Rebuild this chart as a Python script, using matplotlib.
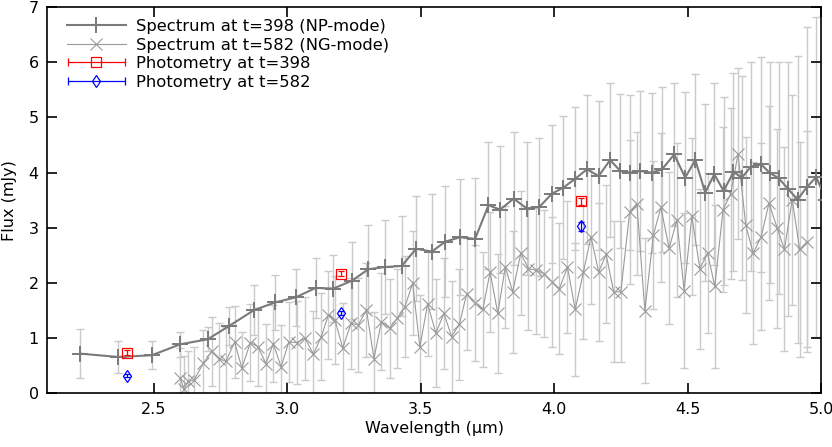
"""Spectra at two epochs with photometry overlaid (flux vs wavelength)."""

import matplotlib
matplotlib.use("Agg")
import matplotlib.pyplot as plt
from matplotlib.legend_handler import HandlerErrorbar
import numpy as np

# Spectrum at t=398 (NP-mode)
wl_np = [2.224, 2.366, 2.492, 2.600, 2.702, 2.782, 2.876, 2.956, 3.032, 3.106,
         3.173, 3.242, 3.304, 3.367, 3.429, 3.483, 3.542, 3.592, 3.648, 3.704,
         3.754, 3.798, 3.848, 3.898, 3.945, 3.992, 4.035, 4.079, 4.123, 4.167,
         4.210, 4.248, 4.285, 4.323, 4.366, 4.404, 4.450, 4.491, 4.529, 4.566,
         4.600, 4.635, 4.672, 4.704, 4.737, 4.776, 4.807, 4.841, 4.878, 4.912,
         4.947, 4.982, 5.020]
flux_np = [0.72, 0.66, 0.69, 0.89, 0.98, 1.22, 1.51, 1.65, 1.74, 1.91,
           1.90, 2.04, 2.25, 2.29, 2.31, 2.62, 2.57, 2.75, 2.83, 2.80,
           3.41, 3.33, 3.53, 3.35, 3.38, 3.62, 3.73, 3.89, 4.06, 3.94,
           4.23, 4.03, 4.00, 4.03, 4.00, 4.06, 4.33, 3.91, 4.23, 3.64,
           3.97, 3.67, 4.01, 3.91, 4.11, 4.15, 4.00, 3.90, 3.70, 3.51,
           3.74, 3.92, 3.50]
err_np = [0.44, 0.29, 0.25, 0.23, 0.22, 0.35, 0.45, 0.50, 0.52, 0.55,
          0.60, 0.70, 0.80, 0.85, 0.90, 0.95, 1.05, 1.00, 1.05, 1.10,
          1.15, 1.15, 1.20, 1.20, 1.25, 1.25, 1.30, 1.30, 1.35, 1.35,
          1.40, 1.40, 1.40, 1.45, 1.45, 1.50, 1.30, 1.55, 1.55, 1.60,
          1.65, 1.70, 1.80, 1.85, 1.90, 1.95, 2.00, 2.10, 2.30, 2.60,
          2.90, 2.90, 3.00]

# Spectrum at t=582 (NG-mode)
wl_ng = [2.600, 2.612, 2.630, 2.651, 2.686, 2.717, 2.745, 2.770, 2.803, 2.830,
         2.862, 2.891, 2.920, 2.948, 2.977, 3.006, 3.036, 3.067, 3.098, 3.128,
         3.154, 3.179, 3.208, 3.239, 3.266, 3.297, 3.325, 3.353, 3.384, 3.412,
         3.441, 3.470, 3.497, 3.526, 3.557, 3.587, 3.616, 3.645, 3.672, 3.702,
         3.733, 3.760, 3.789, 3.817, 3.845, 3.875, 3.904, 3.933, 3.963, 3.992,
         4.020, 4.050, 4.079, 4.110, 4.138, 4.167, 4.195, 4.223, 4.250, 4.283,
         4.310, 4.340, 4.372, 4.400, 4.431, 4.460, 4.487, 4.516, 4.546, 4.575,
         4.602, 4.633, 4.662, 4.689, 4.718, 4.746, 4.776, 4.805, 4.836, 4.863,
         4.892, 4.920, 4.948]
flux_ng = [0.28, 0.07, 0.22, 0.24, 0.55, 0.76, 0.63, 0.58, 0.93, 0.46,
           0.92, 0.84, 0.54, 0.90, 0.48, 0.93, 0.92, 1.00, 0.71, 1.03,
           1.42, 1.33, 0.82, 1.27, 1.24, 1.51, 0.63, 1.30, 1.18, 1.36,
           1.57, 2.00, 0.84, 1.62, 1.09, 1.45, 1.03, 1.25, 1.80, 1.64,
           1.52, 2.20, 1.45, 2.29, 1.84, 2.54, 2.26, 2.23, 2.17, 2.02,
           1.90, 2.29, 1.52, 2.20, 2.84, 2.20, 2.52, 1.84, 1.84, 3.29,
           3.44, 1.50, 2.87, 3.37, 2.63, 3.14, 1.86, 3.21, 2.26, 2.54,
           1.94, 3.33, 3.62, 4.34, 3.05, 2.54, 2.84, 3.45, 2.99, 2.61,
           3.51, 2.61, 2.75]
err_ng = [0.55, 0.60, 0.55, 0.60, 0.60, 0.62, 0.65, 0.62, 0.65, 0.65,
          0.70, 0.70, 0.72, 0.70, 0.75, 0.72, 0.75, 0.75, 0.78, 0.78,
          0.80, 0.80, 0.82, 0.82, 0.85, 0.85, 0.85, 0.88, 0.90, 0.90,
          0.92, 0.95, 0.95, 0.95, 0.98, 1.00, 1.00, 1.00, 1.02, 1.05,
          1.05, 1.08, 1.08, 1.10, 1.10, 1.12, 1.12, 1.15, 1.15, 1.18,
          1.18, 1.20, 1.20, 1.22, 1.22, 1.25, 1.25, 1.28, 1.28, 1.30,
          1.30, 1.32, 1.35, 1.35, 1.38, 1.40, 1.40, 1.42, 1.45, 1.45,
          1.48, 1.50, 1.55, 1.55, 1.60, 1.65, 1.70, 1.75, 1.80, 1.85,
          1.90, 1.95, 2.00]

# Photometry
wl_phot = [2.40, 3.20, 4.10]
phot_398 = [0.74, 2.17, 3.48]
phot_398_err = [0.05, 0.05, 0.06]
phot_582 = [0.32, 1.46, 3.03]
phot_582_err = [0.03, 0.04, 0.08]

ERR_GREY = "#cacaca"

fig = plt.figure(figsize=(8.32, 4.47), dpi=100)
ax = fig.add_axes([0.0565, 0.12, 0.9303, 0.864])

# error bars first, behind the lines
ax.errorbar(wl_ng, flux_ng, yerr=err_ng, fmt="none", ecolor=ERR_GREY,
            elinewidth=1.0, capsize=3, capthick=1.0, zorder=1)
ax.errorbar(wl_np, flux_np, yerr=err_np, fmt="none", ecolor=ERR_GREY,
            elinewidth=1.0, capsize=3, capthick=1.0, zorder=1)

ax.plot(wl_ng, flux_ng, color="#9a9a9a", lw=0.8, marker="x", ms=9, mew=0.8, zorder=2)
ax.plot(wl_np, flux_np, color="#7a7a7a", lw=1.5, marker="+", ms=11, mew=1.4, zorder=3)

ax.errorbar(wl_phot, phot_398, yerr=phot_398_err, fmt="s", ms=7, mfc="none",
            mec="red", mew=0.9, ecolor="red", elinewidth=0.9, capsize=2.5, zorder=4)
ax.errorbar(wl_phot, phot_582, yerr=phot_582_err, fmt="d", ms=6, mfc="none",
            mec="blue", mew=0.9, ecolor="blue", elinewidth=0.9, capsize=2.5, zorder=4)

# legend proxies in gnuplot style (horizontal bars with caps for photometry)
h_np = plt.Line2D([], [], color="#7a7a7a", lw=1.5, marker="+", ms=11, mew=1.4)
h_ng = plt.Line2D([], [], color="#9a9a9a", lw=0.8, marker="x", ms=9, mew=0.8)
h_p1 = ax.errorbar([np.nan], [np.nan], xerr=[1], fmt="s", ms=7, mfc="none",
                   mec="red", mew=0.9, ecolor="red", elinewidth=0.9, capsize=3)
h_p2 = ax.errorbar([np.nan], [np.nan], xerr=[1], fmt="d", ms=6, mfc="none",
                   mec="blue", mew=0.9, ecolor="blue", elinewidth=0.9, capsize=3)
ax.legend([h_np, h_ng, h_p1, h_p2],
          ["Spectrum at t=398 (NP-mode)", "Spectrum at t=582 (NG-mode)",
           "Photometry at t=398", "Photometry at t=582"],
          handler_map={h_p1: HandlerErrorbar(xerr_size=1.75),
                       h_p2: HandlerErrorbar(xerr_size=1.75)},
          loc="upper left", frameon=False, fontsize=11.8, handlelength=3.6,
          handletextpad=0.6, labelspacing=0.22, borderaxespad=0.2,
          bbox_to_anchor=(0.013, 0.995))

ax.set_xlim(2.1, 5.0)
ax.set_ylim(0, 7)
ax.set_xticks([2.5, 3.0, 3.5, 4.0, 4.5, 5.0])
ax.set_xticklabels(["2.5", "3.0", "3.5", "4.0", "4.5", "5.0"])
ax.set_yticks(range(0, 8))
ax.tick_params(direction="in", length=7, width=1.2, top=True, right=True,
               labelsize=11.5, pad=6)
for s in ax.spines.values():
    s.set_linewidth(1.2)

ax.set_xlabel("Wavelength (\u03bcm)", fontsize=11.5, labelpad=3)
ax.set_ylabel("Flux (mJy)", fontsize=11.5, labelpad=8)

fig.savefig("out.png", dpi=100)
